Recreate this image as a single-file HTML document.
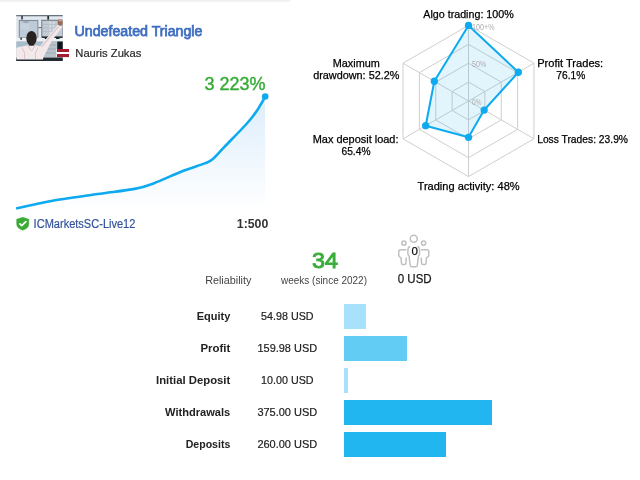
<!DOCTYPE html>
<html><head><meta charset="utf-8"><title>Undefeated Triangle</title>
<style>
html,body{margin:0;padding:0;background:#fff;}
body{width:640px;height:480px;overflow:hidden;position:relative;font-family:"Liberation Sans",sans-serif;}
svg{position:absolute;left:0;top:0;display:block;}
text{font-family:"Liberation Sans",sans-serif;}
</style></head><body>
<svg width="640" height="480" viewBox="0 0 640 480">
<defs>
<linearGradient id="gfill" gradientUnits="userSpaceOnUse" x1="0" y1="96" x2="0" y2="210">
<stop offset="0" stop-color="#dcedfb"/><stop offset="1" stop-color="#ffffff"/>
</linearGradient>
<clipPath id="avc"><rect x="0.2" y="0" width="46.6" height="46"/></clipPath>
<filter id="bl" filterUnits="userSpaceOnUse" x="-5" y="-5" width="60" height="60"><feGaussianBlur stdDeviation="0.6"/></filter>
</defs>
<rect x="0" y="0" width="289.700" height="1.800" fill="#f0f0f0"/>

<!-- avatar -->
<g transform="translate(16,15)" clip-path="url(#avc)">
<g filter="url(#bl)">
<rect x="-3" y="-3" width="53" height="53" fill="#c9d1d9"/>
<rect x="-3" y="1.2" width="53" height="4.4" fill="#d8dfe6"/>
<rect x="-3" y="2.3" width="53" height="1.6" fill="#e6ebf0"/>
<rect x="-3" y="-3" width="53" height="4.2" fill="#6a7480"/>
<rect x="5.3" y="0.9" width="1.5" height="3.6" fill="#2a3038"/>
<rect x="31.3" y="0.9" width="1.8" height="3.8" fill="#2a3038"/>
<rect x="-3" y="5" width="6.3" height="18" fill="#dfe5eb"/>
<rect x="21.9" y="5" width="3.9" height="18" fill="#e6eaee"/>
<rect x="22.5" y="12" width="3.3" height="1.2" fill="#6a7480"/>
<rect x="3.25" y="5.6" width="18.65" height="16.9" fill="#bdcad8" stroke="#76828f" stroke-width="0.9"/>
<rect x="4.2" y="8.5" width="9" height="6" fill="#c6d1dc"/>
<rect x="7.3" y="6.5" width="5.3" height="1.1" fill="#8494aa"/>
<rect x="25.8" y="5.3" width="21" height="16.9" fill="#c2cad3" stroke="#6a7480" stroke-width="0.9"/>
<rect x="33.6" y="6.2" width="1.4" height="15" fill="#d6dce3"/>
<rect x="36.9" y="6.2" width="1.4" height="15" fill="#d6dce3"/>
<path d="M27,9.5H42M27,13H42M27,16.500H42" stroke="#a9b3bf" stroke-width="0.5" fill="none"/>
<rect x="-3" y="22.7" width="53" height="3.8" fill="#eef1f4"/>
<rect x="25.8" y="21.4" width="21" height="1.6" fill="#303840"/>
<rect x="28.700" y="22" width="2.100" height="2" fill="#1c222a"/>
<rect x="40" y="22" width="3.500" height="2" fill="#1c222a"/>
<rect x="4.3" y="22.700" width="1.700" height="2" fill="#39424c"/>
<rect x="-3" y="26.5" width="30" height="6" fill="#a8bccc"/>
<rect x="27.8" y="26" width="13.45" height="16.5" fill="#b8c2cc"/>
<path d="M29,30H40M29,34H40M29,38H40" stroke="#8f9cab" stroke-width="0.6" fill="none"/>
<rect x="41.25" y="26.5" width="8" height="7.8" fill="#10141a"/>
<rect x="41.25" y="34.3" width="8" height="9" fill="#9aa6b2"/>
<rect x="-3" y="42.6" width="53" height="7" fill="#222a32"/>
<path d="M0.600,44.400 L0.600,33.500 Q1.500,31.800 6,31.400 L11.500,30.200 L19.500,30.200 L24,31.300 L41.600,10 L46.600,11.500 L36,25.500 L27.250,42.400 L27,44.400 Z" fill="#f3e9eb"/>
<path d="M25.500,32 L42.500,11.500" stroke="#dcc8cc" stroke-width="1.300" fill="none"/>
<path d="M6,32.500 Q10,38 8.500,44 M22,32.500 Q18,38 19.500,44 M12,31 L15.500,36 L19,31" stroke="#dcc6ca" stroke-width="1" fill="none"/>
<ellipse cx="44.200" cy="7.300" rx="2.600" ry="3.400" fill="#9a6a58"/>
<ellipse cx="44.400" cy="5.300" rx="1.800" ry="1.300" fill="#c0a090"/>
<rect x="12.800" y="27.500" width="5.400" height="3.200" fill="#4a342c"/>
<ellipse cx="15.500" cy="23.200" rx="5.200" ry="7.200" fill="#2a2320"/>
</g>
</g>
<!-- flag -->
<rect x="56.500" y="49" width="12.500" height="8.100" fill="#fff"/>
<rect x="57" y="49" width="12" height="3" fill="#a51c30"/>
<rect x="57" y="54" width="12" height="3.100" fill="#a51c30"/>

<text x="74.600" y="35.500" font-size="14" fill="#3f6ec0" stroke="#3f6ec0" stroke-width="0.750" textLength="127.800" lengthAdjust="spacingAndGlyphs">Undefeated Triangle</text>
<text x="75.300" y="56.800" font-size="11.500" fill="#2a2a2a" stroke="#2a2a2a" stroke-width="0.2" textLength="66" lengthAdjust="spacingAndGlyphs">Nauris Zukas</text>

<!-- growth chart -->
<path d="M16.1,208.4 C18.73,207.85 25.62,206.42 31.9,205.1 C38.17,203.78 42.82,202.35 53.75,200.5 C64.68,198.65 84.01,195.93 97.5,194 C110.99,192.07 125.28,190.7 134.7,188.9 C144.12,187.1 146.08,186.13 154,183.2 C161.92,180.27 173.75,174.6 182.2,171.3 C190.65,168 199.65,165.42 204.7,163.4 C209.75,161.38 209.22,161.95 212.5,159.2 C215.78,156.45 218.67,152.85 224.4,146.9 C230.13,140.95 241.55,129.43 246.9,123.5 C252.25,117.57 253.47,115.75 256.5,111.3 C259.53,106.85 263.67,99.22 265.1,96.8 L265.1,211 L16.1,211 Z" fill="url(#gfill)"/>
<path d="M16.1,208.4 C18.73,207.85 25.62,206.42 31.9,205.1 C38.17,203.78 42.82,202.35 53.75,200.5 C64.68,198.65 84.01,195.93 97.5,194 C110.99,192.07 125.28,190.7 134.7,188.9 C144.12,187.1 146.08,186.13 154,183.2 C161.92,180.27 173.75,174.6 182.2,171.3 C190.65,168 199.65,165.42 204.7,163.4 C209.75,161.38 209.22,161.95 212.5,159.2 C215.78,156.45 218.67,152.85 224.4,146.9 C230.13,140.95 241.55,129.43 246.9,123.5 C252.25,117.57 253.47,115.75 256.5,111.3 C259.53,106.85 263.67,99.22 265.1,96.8" fill="none" stroke="#0daaf0" stroke-width="2.600" stroke-linejoin="round" stroke-linecap="butt"/>
<circle cx="265.200" cy="96.500" r="3.300" fill="#0daaf0"/>
<text x="265.500" y="89.500" text-anchor="end" font-size="18" fill="#35ab35" stroke="#35ab35" stroke-width="0.400" textLength="61" lengthAdjust="spacingAndGlyphs">3 223%</text>

<!-- broker -->
<path d="M22.700,217.300 L28.800,219.300 L28.800,224 Q28.800,228.300 22.700,230.200 Q16.700,228.300 16.700,224 L16.700,219.300 Z" fill="#3aaa35" stroke="#3aaa35" stroke-width="0.5" stroke-linejoin="round"/>
<path d="M19.900,223.800 L21.700,225.600 L25.900,221.600" fill="none" stroke="#fff" stroke-width="1.700" stroke-linecap="round" stroke-linejoin="round"/>
<text x="33.600" y="227.700" font-size="12" fill="#33549c" stroke="#33549c" stroke-width="0.2" textLength="101.800" lengthAdjust="spacingAndGlyphs">ICMarketsSC-Live12</text>
<text x="268.300" y="227.700" text-anchor="end" font-size="12" font-weight="bold" fill="#333" textLength="31.500" lengthAdjust="spacingAndGlyphs">1:500</text>

<!-- radar -->
<g fill="none" stroke="#cfcfcf" stroke-width="1">
<polygon points="468.5,82.1 484.87,91.55 484.87,110.45 468.5,119.9 452.13,110.45 452.13,91.55"/>
<polygon points="468.5,63.2 501.24,82.1 501.24,119.9 468.5,138.8 435.76,119.9 435.76,82.1"/>
<polygon points="468.5,44.3 517.6,72.65 517.6,129.35 468.5,157.7 419.4,129.35 419.4,72.65"/>
<polygon points="468.5,25.4 533.97,63.2 533.97,138.8 468.5,176.6 403.03,138.8 403.03,63.2"/>
<line x1="468.5" y1="101" x2="468.5" y2="25.4"/>
<line x1="468.5" y1="101" x2="533.97" y2="63.2"/>
<line x1="468.5" y1="101" x2="533.97" y2="138.8"/>
<line x1="468.5" y1="101" x2="468.5" y2="176.6"/>
<line x1="468.5" y1="101" x2="403.03" y2="138.8"/>
<line x1="468.5" y1="101" x2="403.03" y2="63.2"/>
</g>
<polygon points="468.5,25.4 518.32,72.23 484.15,110.03 468.5,137.29 425.68,125.72 434.32,81.27" fill="#0daaf0" fill-opacity="0.12" stroke="#0daaf0" stroke-width="2" stroke-linejoin="round"/>
<g fill="#0daaf0"><circle cx="468.5" cy="25.4" r="3.65"/><circle cx="518.32" cy="72.23" r="3.65"/><circle cx="484.15" cy="110.03" r="3.65"/><circle cx="468.5" cy="137.29" r="3.65"/><circle cx="425.68" cy="125.72" r="3.65"/><circle cx="434.32" cy="81.27" r="3.65"/></g>
<g font-size="9" fill="#adadad">
<text x="472" y="29.700" textLength="22.500" lengthAdjust="spacingAndGlyphs">100+%</text>
<text x="472" y="66.900" textLength="14.200" lengthAdjust="spacingAndGlyphs">50%</text>
<text x="472" y="104.800" textLength="9.500" lengthAdjust="spacingAndGlyphs">0%</text>
</g>
<g font-size="11" fill="#000" stroke="#000" stroke-width="0.25">
<text x="468.5" y="17.5" text-anchor="middle" textLength="90.5" lengthAdjust="spacingAndGlyphs">Algo trading: 100%</text>
<text x="356.3" y="67.1" text-anchor="middle" textLength="47" lengthAdjust="spacingAndGlyphs">Maximum</text>
<text x="356.3" y="79.3" text-anchor="middle" textLength="86.3" lengthAdjust="spacingAndGlyphs">drawdown: 52.2%</text>
<text x="355.6" y="143" text-anchor="middle" textLength="85.8" lengthAdjust="spacingAndGlyphs">Max deposit load:</text>
<text x="356" y="155.2" text-anchor="middle" textLength="29" lengthAdjust="spacingAndGlyphs">65.4%</text>
<text x="570.2" y="67.1" text-anchor="middle" textLength="66" lengthAdjust="spacingAndGlyphs">Profit Trades:</text>
<text x="570.8" y="79.3" text-anchor="middle" textLength="29" lengthAdjust="spacingAndGlyphs">76.1%</text>
<text x="582.6" y="143" text-anchor="middle" textLength="90.8" lengthAdjust="spacingAndGlyphs">Loss Trades: 23.9%</text>
<text x="468.6" y="189.5" text-anchor="middle" textLength="102" lengthAdjust="spacingAndGlyphs">Trading activity: 48%</text>
</g>

<!-- middle -->
<text x="228.300" y="284" text-anchor="middle" font-size="10.500" fill="#444" textLength="46.300" lengthAdjust="spacingAndGlyphs">Reliability</text>
<text x="324.900" y="267.900" text-anchor="middle" font-size="22.500" fill="#38ad38" stroke="#38ad38" stroke-width="0.900" textLength="26" lengthAdjust="spacingAndGlyphs">34</text>
<text x="324" y="284" text-anchor="middle" font-size="10.500" fill="#444" textLength="86" lengthAdjust="spacingAndGlyphs">weeks (since 2022)</text>

<!-- people icon -->
<g fill="none" stroke="#c0c0c0" stroke-width="1.500" stroke-linejoin="round" stroke-linecap="round">
<circle cx="403.900" cy="243.100" r="2.100"/>
<circle cx="423.600" cy="243.100" r="2.100"/>
<path d="M405.900,249.800 L400.500,249.800 Q398.750,249.800 398.750,251.800 L398.750,255.500 Q398.750,256.500 401.100,258.100 L401.500,263.500 Q401.600,264.500 402.600,264.500 L404.800,264.500 Q405.800,264.500 405.900,263.500 L406.300,258.100"/>
<path d="M421.600,249.800 L427,249.800 Q428.750,249.800 428.750,251.800 L428.750,255.500 Q428.750,256.500 426.400,258.100 L426,263.500 Q425.900,264.500 424.900,264.500 L422.700,264.500 Q421.700,264.500 421.600,263.500 L421.200,258.100"/>
<circle cx="413.750" cy="238.700" r="3.500"/>
<path d="M409.400,246.600 Q407.900,248 407.900,250.200 L407.900,253.500 Q407.900,254.800 409,255.750 L410.200,265.250 Q410.400,266.800 411.800,266.800 L415.700,266.800 Q417.100,266.800 417.300,265.250 L418.500,255.750 Q419.600,254.800 419.600,253.500 L419.600,250.200 Q419.600,248 418.100,246.600"/>
</g>
<text x="414.600" y="255" text-anchor="middle" font-size="11.500" fill="#111" stroke="#111" stroke-width="0.25">0</text>
<text x="414.700" y="283.200" text-anchor="middle" font-size="12.500" fill="#1a1a1a" stroke="#1a1a1a" stroke-width="0.25" textLength="34" lengthAdjust="spacingAndGlyphs">0 USD</text>

<!-- bars -->
<rect x="344" y="304" width="22" height="25" fill="#a7e1fb"/>
<text x="230.3" y="320" text-anchor="end" font-weight="bold" font-size="11" fill="#222" textLength="33.6" lengthAdjust="spacingAndGlyphs">Equity</text>
<text x="287.3" y="320" text-anchor="middle" font-size="11" fill="#222" stroke="#222" stroke-width="0.2" textLength="52.5" lengthAdjust="spacingAndGlyphs">54.98 USD</text>
<rect x="344" y="336" width="63" height="25" fill="#62ccf5"/>
<text x="230.3" y="352" text-anchor="end" font-weight="bold" font-size="11" fill="#222" textLength="29.8" lengthAdjust="spacingAndGlyphs">Profit</text>
<text x="287.3" y="352" text-anchor="middle" font-size="11" fill="#222" stroke="#222" stroke-width="0.2" textLength="59.6" lengthAdjust="spacingAndGlyphs">159.98 USD</text>
<rect x="344" y="368" width="4" height="25" fill="#a7e1fb"/>
<text x="230.3" y="384" text-anchor="end" font-weight="bold" font-size="11" fill="#222" textLength="74.3" lengthAdjust="spacingAndGlyphs">Initial Deposit</text>
<text x="287.3" y="384" text-anchor="middle" font-size="11" fill="#222" stroke="#222" stroke-width="0.2" textLength="52.5" lengthAdjust="spacingAndGlyphs">10.00 USD</text>
<rect x="344" y="400" width="148" height="25" fill="#21b6f0"/>
<text x="230.3" y="416" text-anchor="end" font-weight="bold" font-size="11" fill="#222" textLength="65.2" lengthAdjust="spacingAndGlyphs">Withdrawals</text>
<text x="287.3" y="416" text-anchor="middle" font-size="11" fill="#222" stroke="#222" stroke-width="0.2" textLength="59.8" lengthAdjust="spacingAndGlyphs">375.00 USD</text>
<rect x="344" y="432" width="102" height="25" fill="#21b6f0"/>
<text x="230.3" y="448" text-anchor="end" font-weight="bold" font-size="11" fill="#222" textLength="44.55" lengthAdjust="spacingAndGlyphs">Deposits</text>
<text x="287.3" y="448" text-anchor="middle" font-size="11" fill="#222" stroke="#222" stroke-width="0.2" textLength="59.8" lengthAdjust="spacingAndGlyphs">260.00 USD</text>

</svg>
</body></html>
